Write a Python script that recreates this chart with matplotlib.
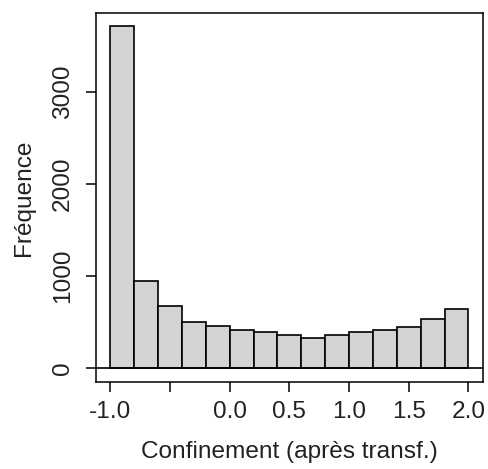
import numpy as np
import matplotlib
matplotlib.use("Agg")
import matplotlib.pyplot as plt

plt.rcParams['font.family'] = ['Liberation Sans', 'DejaVu Sans']

# Data
bin_edges = [-1.0, -0.8, -0.6, -0.4, -0.2, 0.0, 0.2, 0.4, 0.6, 0.8, 1.0, 1.2, 1.4, 1.6, 1.8, 2.0]
counts = [3708, 948, 671, 498, 461, 411, 396, 360, 325, 357, 396, 411, 444, 534, 639]
x_ticks = [-1.0, -0.5, 0.0, 0.5, 1.0, 1.5, 2.0]
x_tick_labels = ['-1.0', '', '0.0', '0.5', '1.0', '1.5', '2.0']
y_ticks = [0, 1000, 2000, 3000]
y_tick_labels = ['0', '1000', '2000', '3000']
xlabel = 'Confinement (après transf.)'
ylabel = 'Fréquence'

W, H = 488, 469
fig = plt.figure(figsize=(W / 100, H / 100), dpi=100)
ax = fig.add_axes([96 / W, 1 - 382 / H, (482.7 - 96) / W, (382 - 12.7) / H])

edges = np.array(bin_edges)
ax.bar(edges[:-1], counts, width=np.diff(edges), align='edge',
       color='#d3d3d3', edgecolor='black', linewidth=1.2)
ax.axhline(0, color='black', linewidth=1.2)

xr = edges[-1] - edges[0]
ax.set_xlim(edges[0] - 0.04 * xr, edges[-1] + 0.04 * xr)
ymax = max(counts)
ax.set_ylim(-0.04 * ymax, 1.04 * ymax)

fs = 17.6
tc = '#222222'
ax.set_xticks(x_ticks)
ax.set_xticklabels(x_tick_labels, fontsize=fs, color=tc)
ax.set_yticks(y_ticks)
ax.set_yticklabels(y_tick_labels, fontsize=fs, color=tc, rotation=90, va='center')

ax.tick_params(axis='both', direction='out', length=7.2, width=1.1, color='black')
ax.tick_params(axis='x', pad=6.5)
ax.tick_params(axis='y', pad=8.5)

for s in ax.spines.values():
    s.set_linewidth(1.1)
    s.set_color('black')

ax.set_xlabel(xlabel, fontsize=fs, color=tc, va='center')
ax.xaxis.set_label_coords(0.5, (382 - 452) / (382 - 12.7))
ax.set_ylabel(ylabel, fontsize=fs, color=tc, va='center')
ax.yaxis.set_label_coords((24 - 96) / (482.7 - 96), 0.5)

fig.savefig('out.png', dpi=100)
